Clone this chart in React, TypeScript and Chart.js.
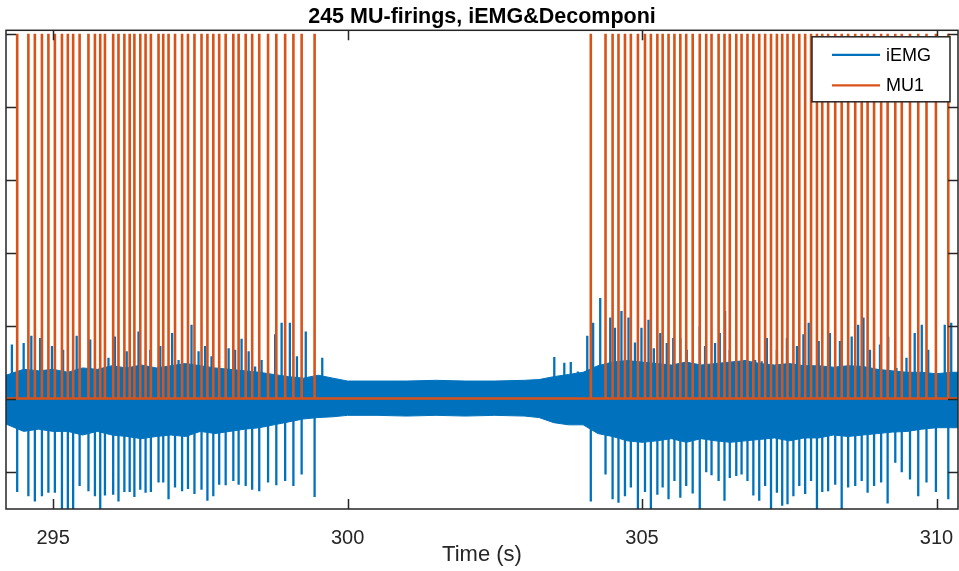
import React, { useEffect, useRef } from 'react';
import { Chart, registerables } from 'chart.js';

Chart.register(...registerables);

// ---------- data ----------
const chartTitle = '245 MU-firings, iEMG&Decomponi';
const xAxisTitle = 'Time (s)';
const seriesNames = ['iEMG', 'MU1'];
const xTicks = [295, 300, 305, 310];
const yTicks = [-1, 0, 1, 2, 3, 4, 5];
const xRange = [294.2, 310.365];
const yRange = [-1.514, 5.048];

const mu1Height = 5;

// MU1 firing times (s), first and second burst
const mu1Burst1 = [294.39, 294.58, 294.69, 294.81, 294.92, 295.03, 295.15, 295.25, 295.34, 295.45, 295.60, 295.71, 295.80, 295.88, 296.02, 296.11, 296.21, 296.30, 296.38, 296.48, 296.57, 296.66, 296.79, 296.87, 296.96, 297.07, 297.19, 297.29, 297.40, 297.52, 297.62, 297.72, 297.82, 297.93, 298.06, 298.15, 298.27, 298.38, 298.50, 298.65, 298.79, 298.94, 299.08, 299.22, 299.44];
const mu1Burst2 = [304.13, 304.38, 304.50, 304.60, 304.71, 304.81, 304.93, 305.05, 305.15, 305.26, 305.35, 305.45, 305.55, 305.65, 305.75, 305.86, 305.98, 306.09, 306.18, 306.30, 306.40, 306.49, 306.60, 306.69, 306.79, 306.89, 306.99, 307.09, 307.19, 307.29, 307.38, 307.47, 307.57, 307.67, 307.77, 307.87, 307.97, 308.06, 308.16, 308.28, 308.39, 308.50, 308.62, 308.73, 308.83, 308.94, 309.06, 309.17, 309.30, 309.41, 309.55, 309.69, 309.83, 309.99, 310.20];

// iEMG negative spike depth at each MU1 firing
const iemgDownBurst1 = [-1.28, -1.34, -1.41, -1.34, -1.29, -1.29, -1.6, -1.6, -1.6, -1.20, -1.27, -1.34, -1.6, -1.33, -1.32, -1.41, -1.28, -1.28, -1.35, -1.25, -1.29, -1.28, -1.15, -1.15, -1.38, -1.22, -1.27, -1.24, -1.31, -1.25, -1.40, -1.34, -1.18, -1.19, -1.13, -1.18, -1.20, -1.25, -1.27, -1.15, -1.19, -1.13, -1.20, -1.04, -1.35];
const iemgDownBurst2 = [-1.41, -1.04, -1.38, -1.43, -1.34, -1.22, -1.55, -1.28, -1.55, -1.32, -1.22, -1.38, -1.13, -1.36, -1.20, -1.30, -1.55, -1.01, -1.05, -1.13, -1.40, -1.09, -1.06, -1.04, -1.13, -1.33, -1.40, -1.20, -1.55, -1.29, -1.47, -1.45, -1.34, -1.20, -1.31, -1.13, -1.55, -1.28, -1.27, -1.18, -1.55, -1.22, -1.20, -1.13, -1.29, -1.20, -1.15, -1.44, -0.88, -1.01, -1.11, -1.34, -1.15, -1.28, -1.38];

// iEMG positive spikes
const iemgUpTimes = [294.30, 294.50, 294.63, 294.78, 294.98, 295.17, 295.40, 295.63, 295.94, 296.05, 296.25, 296.45, 296.65, 296.82, 297.02, 297.13, 297.35, 297.47, 297.58, 297.69, 297.98, 298.09, 298.20, 298.32, 298.43, 298.54, 298.77, 298.88, 299.02, 299.14, 299.29, 299.57, 303.51, 303.68, 303.79, 303.91, 304.07, 304.17, 304.29, 304.46, 304.54, 304.65, 304.77, 304.88, 304.99, 305.11, 305.20, 305.31, 305.42, 305.53, 305.65, 305.76, 305.98, 306.07, 306.24, 306.32, 306.41, 306.49, 306.66, 306.75, 306.92, 307.03, 307.12, 307.29, 307.46, 307.63, 307.74, 307.83, 308.00, 308.19, 308.36, 308.56, 308.67, 308.76, 308.87, 309.04, 309.18, 309.32, 309.49, 309.63, 309.75, 309.86, 310.14, 310.25];
const iemgUpValues = [0.74, 0.76, 0.86, 0.83, 0.72, 0.67, 0.86, 0.81, 0.56, 0.85, 0.65, 0.92, 0.67, 0.72, 0.90, 0.53, 1.01, 0.65, 0.72, 0.58, 0.69, 0.67, 0.82, 0.65, 0.44, 0.53, 0.88, 1.04, 1.04, 0.58, 0.92, 0.56, 0.57, 0.49, 0.50, 0.37, 0.86, 1.04, 1.38, 1.11, 0.97, 1.20, 1.11, 0.77, 0.97, 1.08, 0.69, 0.90, 0.76, 0.83, 0.83, 0.67, 0.99, 0.72, 0.76, 0.90, 1.20, 0.67, 0.42, 0.53, 0.53, 0.51, 0.83, 0.67, 0.83, 0.72, 0.88, 1.04, 0.79, 0.90, 0.79, 0.85, 1.01, 1.11, 0.67, 0.74, 0.85, 0.42, 0.56, 0.90, 1.01, 0.67, 1.01, 1.04];

// iEMG dense band envelope
const envTimes = [294.2, 294.5, 294.75, 295.0, 295.25, 295.5, 295.75, 296.0, 296.25, 296.5, 296.75, 297.0, 297.25, 297.5, 297.75, 298.0, 298.25, 298.5, 298.75, 299.0, 299.25, 299.5, 299.75, 300.0, 300.5, 301.0, 301.5, 302.0, 302.5, 303.0, 303.25, 303.5, 303.75, 304.0, 304.25, 304.5, 304.75, 305.0, 305.25, 305.5, 305.75, 306.0, 306.25, 306.5, 306.75, 307.0, 307.25, 307.5, 307.75, 308.0, 308.25, 308.5, 308.75, 309.0, 309.25, 309.5, 309.75, 310.0, 310.25, 310.4];
const envHigh = [0.32, 0.40, 0.38, 0.40, 0.36, 0.42, 0.40, 0.45, 0.42, 0.46, 0.42, 0.45, 0.48, 0.45, 0.42, 0.40, 0.38, 0.36, 0.33, 0.30, 0.28, 0.32, 0.28, 0.24, 0.24, 0.24, 0.25, 0.24, 0.24, 0.25, 0.26, 0.30, 0.33, 0.36, 0.45, 0.50, 0.52, 0.50, 0.48, 0.46, 0.50, 0.46, 0.48, 0.50, 0.52, 0.48, 0.46, 0.48, 0.45, 0.45, 0.43, 0.45, 0.44, 0.40, 0.38, 0.36, 0.36, 0.34, 0.36, 0.36];
const envLow = [-0.35, -0.45, -0.42, -0.45, -0.45, -0.50, -0.45, -0.50, -0.52, -0.55, -0.52, -0.50, -0.52, -0.45, -0.48, -0.45, -0.42, -0.40, -0.36, -0.32, -0.28, -0.26, -0.25, -0.23, -0.23, -0.24, -0.23, -0.24, -0.23, -0.24, -0.26, -0.33, -0.36, -0.36, -0.48, -0.52, -0.58, -0.60, -0.58, -0.55, -0.60, -0.55, -0.58, -0.60, -0.58, -0.56, -0.54, -0.58, -0.54, -0.54, -0.50, -0.52, -0.50, -0.48, -0.46, -0.45, -0.42, -0.40, -0.40, -0.40];

// ---------- styling ----------
const BLUE = '#0072BD';
const ORANGE = '#D95319';
const AXIS = '#262626';
const FONT = "'Liberation Sans', Arial, Helvetica, sans-serif";

type P = { x: number; y: number | null };

function spikes(times: number[], values: number[]): P[] {
  const out: P[] = [];
  times.forEach((t, i) => {
    out.push({ x: t, y: 0 }, { x: t, y: values[i] }, { x: t, y: null });
  });
  return out;
}

function firingTrain(times: number[], h: number): P[] {
  const out: P[] = [{ x: xRange[0], y: 0 }];
  times.forEach((t) => {
    out.push({ x: t, y: 0 }, { x: t, y: h }, { x: t, y: 0 });
  });
  out.push({ x: xRange[1], y: 0 });
  return out;
}

const framePlugin = {
  id: 'matlabFrame',
  afterDatasetsDraw(chart: any) {
    const { ctx, chartArea: a, scales } = chart;
    ctx.save();
    ctx.strokeStyle = AXIS;
    ctx.lineWidth = 1.5;
    ctx.strokeRect(a.left, a.top, a.right - a.left, a.bottom - a.top);
    const tl = 10;
    ctx.beginPath();
    xTicks.forEach((v) => {
      const px = Math.round(scales.x.getPixelForValue(v)) + 0.5;
      ctx.moveTo(px, a.bottom);
      ctx.lineTo(px, a.bottom - tl);
      ctx.moveTo(px, a.top);
      ctx.lineTo(px, a.top + tl);
    });
    yTicks.forEach((v) => {
      const py = Math.round(scales.y.getPixelForValue(v)) + 0.5;
      ctx.moveTo(a.left, py);
      ctx.lineTo(a.left + tl, py);
      ctx.moveTo(a.right, py);
      ctx.lineTo(a.right - tl, py);
    });
    ctx.stroke();
    ctx.restore();
  },
  afterDraw(chart: any) {
    const { ctx, chartArea: a } = chart;
    const w = 138;
    const h = 65;
    const left = a.right - 8 - w;
    const top = a.top + 6.5;
    ctx.save();
    ctx.fillStyle = '#ffffff';
    ctx.fillRect(left, top, w, h);
    ctx.strokeStyle = AXIS;
    ctx.lineWidth = 1.5;
    ctx.strokeRect(left, top, w, h);
    const colors = [BLUE, ORANGE];
    ctx.font = `18px ${FONT}`;
    ctx.textBaseline = 'middle';
    ctx.textAlign = 'left';
    seriesNames.forEach((name, i) => {
      const y = top + 18 + i * 30.5;
      ctx.strokeStyle = colors[i];
      ctx.lineWidth = 2.2;
      ctx.beginPath();
      ctx.moveTo(left + 20, y);
      ctx.lineTo(left + 68, y);
      ctx.stroke();
      ctx.fillStyle = '#000000';
      ctx.fillText(name, left + 74, y + 1);
    });
    ctx.restore();
  },
};

export default function App() {
  const ref = useRef<HTMLCanvasElement | null>(null);

  useEffect(() => {
    if (!ref.current) return;
    const mu1Times = [...mu1Burst1, ...mu1Burst2];
    const iemgDown = [...iemgDownBurst1, ...iemgDownBurst2];
    const spikePts = [...spikes(mu1Times, iemgDown), ...spikes(iemgUpTimes, iemgUpValues)];
    const chart = new Chart(ref.current, {
      type: 'line',
      data: {
        datasets: [
          {
            label: seriesNames[1],
            data: firingTrain(mu1Times, mu1Height),
            borderColor: ORANGE,
            borderWidth: 2.6,
            pointRadius: 0,
            fill: false,
            order: 0,
          },
          {
            label: seriesNames[0],
            data: spikePts,
            borderColor: BLUE,
            borderWidth: 2.3,
            pointRadius: 0,
            spanGaps: false,
            fill: false,
            order: 1,
          },
          {
            label: 'envHigh',
            data: envTimes.map((t, i) => ({ x: t, y: envHigh[i] })),
            borderColor: BLUE,
            backgroundColor: BLUE,
            borderWidth: 1,
            pointRadius: 0,
            fill: '+1',
            order: 2,
          },
          {
            label: 'envLow',
            data: envTimes.map((t, i) => ({ x: t, y: envLow[i] })),
            borderColor: BLUE,
            borderWidth: 1,
            pointRadius: 0,
            fill: false,
            order: 3,
          },
        ] as any,
      },
      options: {
        animation: false,
        responsive: true,
        maintainAspectRatio: false,
        devicePixelRatio: 1,
        events: [],
        layout: { padding: { left: 6, right: 1, top: 0, bottom: 0 } },
        plugins: {
          legend: { display: false },
          tooltip: { enabled: false },
          title: {
            display: true,
            text: chartTitle,
            color: '#000000',
            font: { family: FONT, size: 21.5, weight: 'bold', lineHeight: 1.2 },
            padding: { top: 4.5, bottom: 0 },
          },
        },
        scales: {
          x: {
            type: 'linear',
            min: xRange[0],
            max: xRange[1],
            grid: { display: false },
            border: { display: false },
            afterBuildTicks: (s: any) => {
              s.ticks = xTicks.map((v) => ({ value: v }));
            },
            afterFit: (s: any) => {
              s.height = 62;
              s.paddingLeft = 0;
              s.paddingRight = 0;
            },
            ticks: {
              autoSkip: false,
              maxRotation: 0,
              padding: 9,
              color: AXIS,
              font: { family: FONT, size: 20, lineHeight: 1.2 },
              callback: (v: any) => String(v),
            },
            title: {
              display: true,
              text: xAxisTitle,
              color: AXIS,
              font: { family: FONT, size: 22, lineHeight: 1.2 },
              padding: { top: 0, bottom: 2.4 },
            },
          },
          y: {
            type: 'linear',
            display: false,
            min: yRange[0],
            max: yRange[1],
          },
        },
      } as any,
      plugins: [framePlugin],
    });
    return () => chart.destroy();
  }, []);

  return (
    <div style={{ position: 'absolute', left: 0, top: 0, width: 959, height: 571, background: '#ffffff' }}>
      <canvas ref={ref} />
    </div>
  );
}
